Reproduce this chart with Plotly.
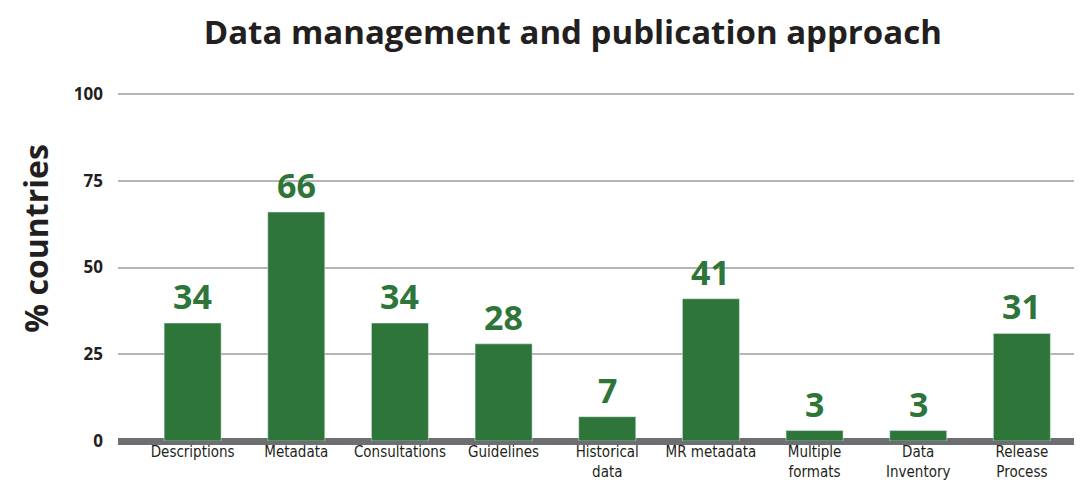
import plotly.graph_objects as go

categories = [
    "Descriptions",
    "Metadata",
    "Consultations",
    "Guidelines",
    "Historical<br>data",
    "MR metadata",
    "Multiple<br>formats",
    "Data<br>Inventory",
    "Release<br>Process",
]
values = [34, 66, 34, 28, 7, 41, 3, 3, 31]
y_ticks = [0, 25, 50, 75, 100]

GREEN = "#2e7539"
DARK = "#231f20"

fig = go.Figure(
    go.Bar(
        x=categories,
        y=values,
        marker_color=GREEN,
        width=0.55,
    )
)

# value labels sit just above each bar
for cat, val in zip(categories, values):
    fig.add_annotation(
        x=cat,
        y=val,
        text=str(val),
        showarrow=False,
        yanchor="bottom",
        yshift=2,
        font=dict(family="Open Sans", size=34, color=GREEN, weight="bold"),
    )

fig.add_annotation(
    text="% countries",
    textangle=-90,
    xref="paper",
    yref="paper",
    x=-0.086,
    y=0.58,
    xanchor="center",
    yanchor="middle",
    showarrow=False,
    font=dict(family="Open Sans", size=32, color=DARK, weight="bold"),
)

# page body has an 8px margin, so the margins are shifted to compensate
fig.update_layout(
    width=1082,
    height=485,
    plot_bgcolor="white",
    paper_bgcolor="white",
    margin=dict(l=110, r=8, t=84, b=52),
    showlegend=False,
    title=dict(
        text="Data management and publication approach",
        x=0.522,
        xanchor="center",
        xref="container",
        y=0.95,
        yanchor="middle",
        font=dict(family="Open Sans", size=33, color=DARK, weight="bold"),
    ),
)

fig.update_xaxes(
    range=[-0.72, 8.58],
    showgrid=False,
    ticks="",
    automargin=False,
    tickfont=dict(family="DejaVu Sans Condensed, DejaVu Sans", size=15, color=DARK),
)

fig.update_yaxes(
    range=[0, 100.6],
    tickvals=y_ticks,
    showgrid=True,
    gridcolor="#b5b5b5",
    gridwidth=2,
    zeroline=True,
    zerolinecolor="#6d6e71",
    zerolinewidth=7,
    ticks="",
    automargin=False,
    ticklabelstandoff=14,
    tickfont=dict(family="Open Sans", size=17, color=DARK, weight="bold"),
)

fig.write_html("out.html")
